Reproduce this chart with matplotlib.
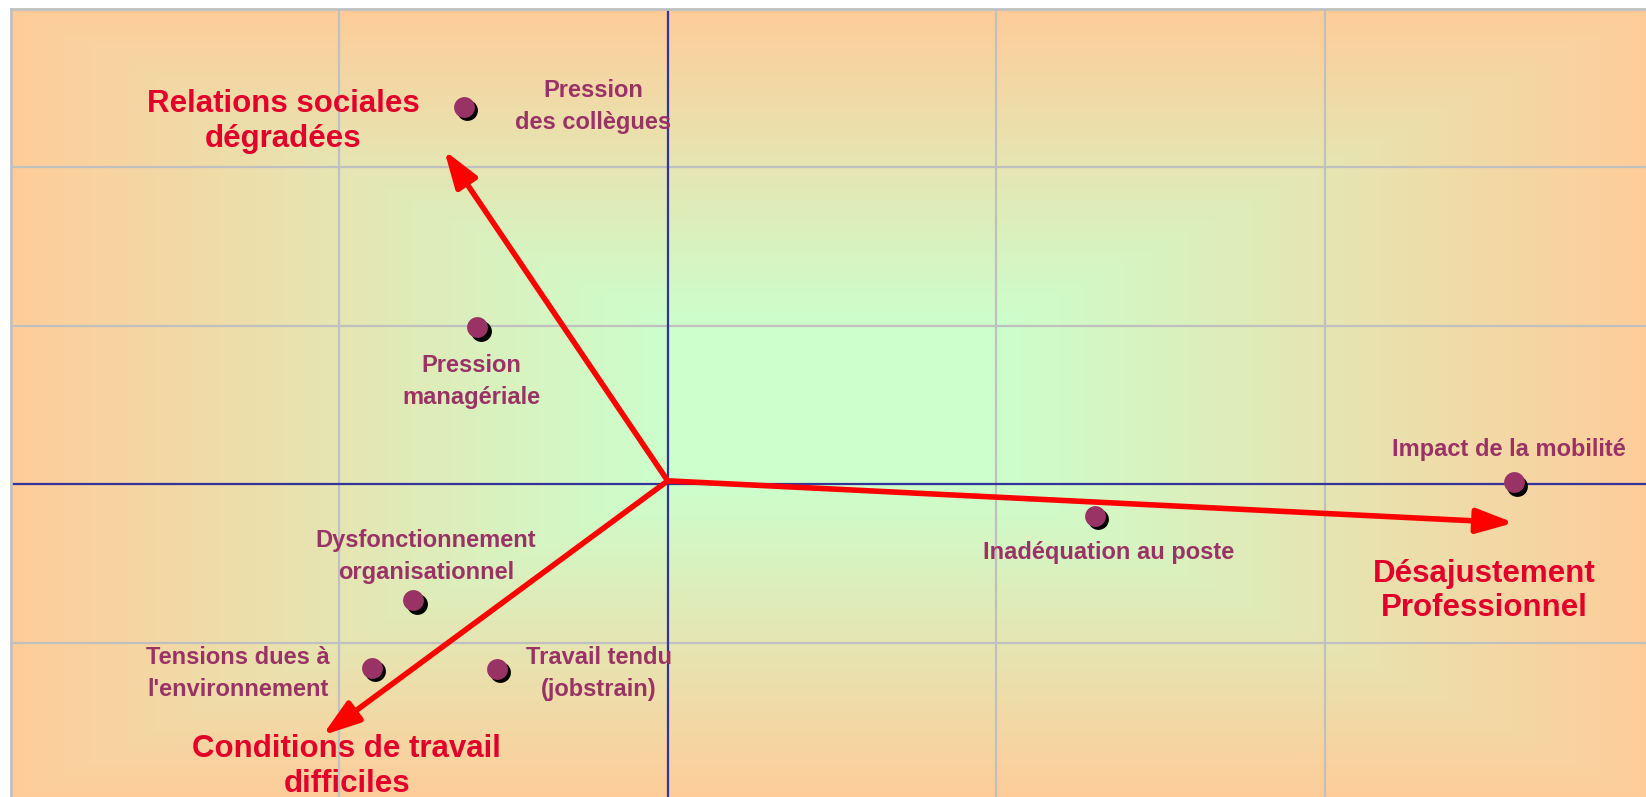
import numpy as np
import matplotlib.pyplot as plt
import matplotlib.transforms as mtransforms

plt.rcParams['font.family'] = ['Liberation Sans', 'DejaVu Sans']

# points of the factor map (grid step = 1 unit)
labels = ['Pression\ndes collègues', 'Pression\nmanagériale', 'Impact de la mobilité',
          'Inadéquation au poste', 'Dysfonctionnement\norganisationnel',
          "Tensions dues à\nl'environnement", 'Travail tendu\n(jobstrain)']
x_vals = [-0.62, -0.58, 2.575, 1.30, -0.775, -0.90, -0.52]
y_vals = [2.38, 0.99, 0.01, -0.20, -0.735, -1.16, -1.165]

# factor arrows, from the origin
factor_names = ['Relations sociales\ndégradées', 'Désajustement\nProfessionnel',
                'Conditions de travail\ndifficiles']
factor_x = [-0.68, 2.575, -1.05]
factor_y = [2.105, -0.245, -1.585]
origin = (0.0, 0.02)

# label offsets in pixels (layout only)
label_off = [(129, 0), (-6, -54), (-5, 33), (14, -37), (13, 44), (-134, -6), (102, -5)]
factor_off = [(-161, 29), (-30, -68), (24, -31)]

purple = '#993366'
red_txt = '#E2002A'

fig = plt.figure(figsize=(16.46, 7.97), dpi=100)
ax = fig.add_axes([10.5 / 1646, -4 / 797, 1643 / 1646, 792.5 / 797])

# gradient: flat green in the central cell, ramping to orange at the edges
n = 500
g = np.linspace(-2, 3, n)
X, Y = np.meshgrid(g, g)
d = np.maximum(np.abs(X - 0.5), np.abs(Y - 0.5))
t = np.clip((d - 0.5) / 2.0, 0, 1)
c0 = np.array([204, 255, 204]) / 255
c1 = np.array([255, 204, 153]) / 255
img = c0[None, None, :] * (1 - t[..., None]) + c1[None, None, :] * t[..., None]
ax.imshow(img, extent=[-2, 3, -2, 3], origin='lower', aspect='auto', zorder=0)

for gx in [-1, 1, 2]:
    ax.axvline(gx, color='#C0C0C0', lw=1.6, zorder=1)
for gy in [-1, 1, 2]:
    ax.axhline(gy, color='#C0C0C0', lw=1.6, zorder=1)
ax.axvline(0, color='#333399', lw=1.6, zorder=2)
ax.axhline(0, color='#333399', lw=1.6, zorder=2)

for s in ax.spines.values():
    s.set_color('#C0C0C0')
    s.set_linewidth(2)
ax.set_xticks([])
ax.set_yticks([])
ax.set_xlim(-2, 3)
ax.set_ylim(-2, 3)

# arrows
for fx, fy, name, off in zip(factor_x, factor_y, factor_names, factor_off):
    ax.annotate('', xy=(fx, fy), xytext=origin,
                arrowprops=dict(arrowstyle='-|>,head_length=0.9,head_width=0.3',
                                mutation_scale=25, color='#FF0000', lw=4,
                                shrinkA=0, shrinkB=0), zorder=4)
    ax.annotate(name, xy=(fx, fy), xytext=off, textcoords='offset pixels',
                ha='center', va='center', fontsize=22.5, fontweight='bold',
                color=red_txt, linespacing=1.2, zorder=6)

# points with shadow
shadow = mtransforms.offset_copy(ax.transData, fig=fig, x=3.5, y=-3.5, units='dots')
ax.plot(x_vals, y_vals, 'o', ms=15, color='black', mec='none', transform=shadow, zorder=5)
ax.plot(x_vals, y_vals, 'o', ms=15, color=purple, mec='none', zorder=5)

for x, y, lab, off in zip(x_vals, y_vals, labels, label_off):
    ax.annotate(lab, xy=(x, y), xytext=off, textcoords='offset pixels',
                ha='center', va='center', fontsize=17, fontweight='bold',
                color=purple, linespacing=1.5, zorder=6)

fig.savefig('out.png', dpi=100)
